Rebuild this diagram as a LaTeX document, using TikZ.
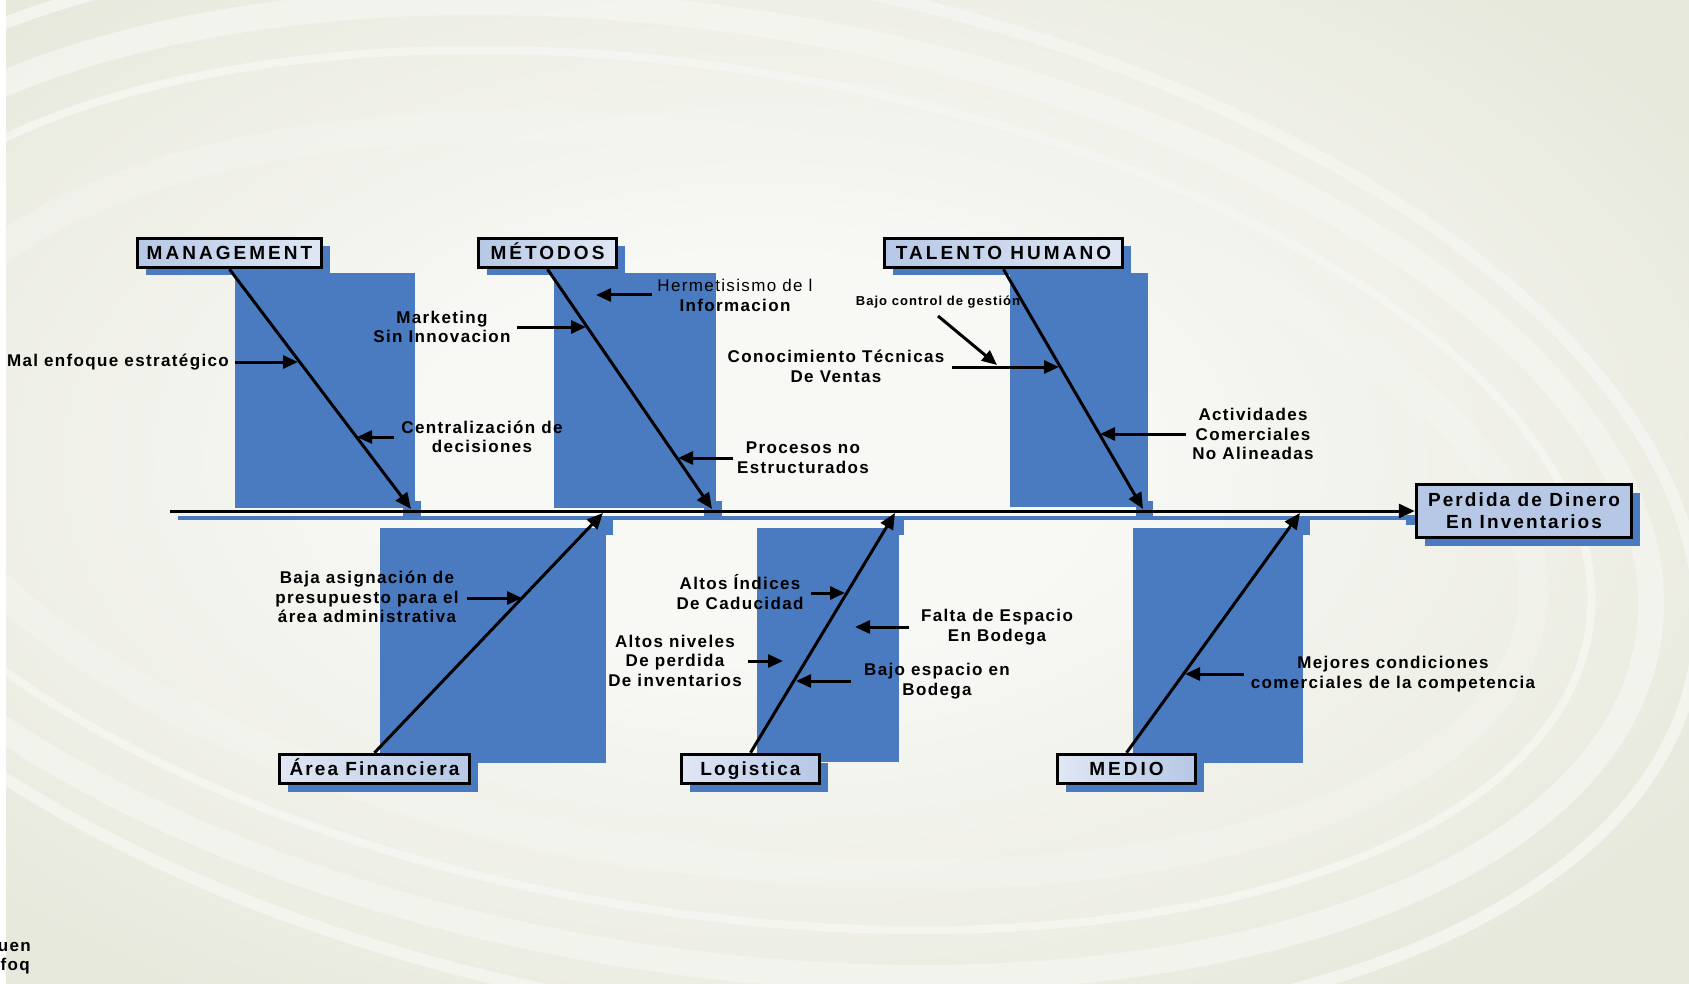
\documentclass[tikz,border=0pt]{standalone}
\usepackage{fontspec}
\newfontfamily\labfont[LetterSpace=8]{Liberation Sans}
\newfontfamily\capfont[LetterSpace=16]{Liberation Sans}
\newfontfamily\capfontb[LetterSpace=11]{Liberation Sans}
\usetikzlibrary{arrows.meta,shadows}
\definecolor{bgc}{HTML}{E8E9DD}
\definecolor{bgin}{HTML}{F8F8F5}
\definecolor{swirlc}{HTML}{F5F6F1}
\definecolor{fishblue}{HTML}{4A7BC1}
\definecolor{boxlight}{HTML}{E0E7F4}
\definecolor{boxdark}{HTML}{B6C8E6}
\pgfdeclareradialshading{bgshade}{\pgfpoint{-3bp}{2bp}}{color(0bp)=(bgin); color(10bp)=(bgin); color(32bp)=(bgc); color(80bp)=(bgc)}
\tikzset{
  panel/.style={fill=fishblue},
  swirl/.style={draw=swirlc},
  catbox/.style={draw=black, line width=3.5pt, inner sep=0pt, minimum height=29pt,
    text height=13.6pt, text depth=0pt,
    drop shadow={shadow xshift=8pt, shadow yshift=-8pt, opacity=1, fill=fishblue}},
  topbox/.style={catbox, left color=boxdark, right color=boxlight,
    font=\capfont\bfseries\fontsize{19}{22}\selectfont},
  botbox/.style={catbox, left color=boxlight, right color=boxdark,
    font=\capfontb\bfseries\fontsize{19}{22}\selectfont},
  bone/.style={line width=3pt, -{Triangle[length=16pt,width=14pt]}},
  sub/.style={line width=3pt, -{Triangle[length=15pt,width=13pt]}},
  lbl/.style={font=\labfont\bfseries\fontsize{17}{19.5}\selectfont, align=center, inner sep=0pt},
}
\begin{document}
\begin{tikzpicture}[x=1pt,y=-1pt]
\useasboundingbox (0,0) rectangle (1689,984);
% background
\fill[bgc] (0,0) rectangle (1689,984);
\shade[shading=bgshade] (0,0) rectangle (1689,984);
\begin{scope}
\clip (0,0) rectangle (1689,984);
\draw[swirl, line width=26pt, opacity=.75, rotate around={-9:(700,490)}] (700,490) ellipse [x radius=960pt, y radius=470pt];
\draw[swirl, line width=8pt, opacity=.9, rotate around={-9:(700,490)}] (700,490) ellipse [x radius=900pt, y radius=422pt];
\draw[swirl, line width=12pt, opacity=.85, rotate around={-10:(700,490)}] (700,490) ellipse [x radius=1010pt, y radius=520pt];
\draw[swirl, line width=30pt, opacity=.45, rotate around={-8:(720,500)}] (720,500) ellipse [x radius=820pt, y radius=360pt];
\end{scope}
\fill[white] (0,0) rectangle (6,984);

% blue panels
\fill[panel] (235,273) rectangle (415,508);
\fill[panel] (554,273) rectangle (716,508);
\fill[panel] (1010,273) rectangle (1148,507);
\fill[panel] (380,528) rectangle (606,763);
\fill[panel] (757,528) rectangle (899,762);
\fill[panel] (1133,528) rectangle (1303,763);
% blue under-spine and joint squares
\fill[fishblue] (178,516) rectangle (1413,520);
\fill[fishblue] (403,501) rectangle (421,519);
\fill[fishblue] (704,501) rectangle (722,519);
\fill[fishblue] (1136,501) rectangle (1153,519);
\fill[fishblue] (597,516) rectangle (613,535);
\fill[fishblue] (887,516) rectangle (904,535);
\fill[fishblue] (1292,516) rectangle (1310,535);
\fill[fishblue] (1406,515) rectangle (1415,525);

% category boxes
\node[topbox, minimum width=184pt] (mgmt) at (229.5,253) {MANAGEMENT};
\node[topbox, minimum width=138pt] (met) at (547.5,253) {MÉTODOS};
\node[topbox, minimum width=238pt] (tal) at (1003.5,253) {TALENTO HUMANO};
\node[botbox, minimum width=190pt] (fin) at (374.5,769) {Área Financiera};
\node[botbox, minimum width=138pt] (log) at (750.5,769) {Logistica};
\node[topbox, left color=boxlight, right color=boxdark, minimum width=138pt] (med) at (1126.5,769) {MEDIO};
\node[draw=black, line width=3.5pt, fill=boxdark, inner sep=0pt, minimum width=215pt, minimum height=53pt,
  align=center, font=\capfontb\bfseries\fontsize{19}{22}\selectfont,
  drop shadow={shadow xshift=8pt, shadow yshift=-8pt, opacity=1, fill=fishblue}] (eff) at (1524,511) {Perdida de Dinero\\En Inventarios};

% spine
\coordinate (spine) at (170,511);
\draw[line width=3pt, -{Triangle[length=16pt,width=14pt]}] (spine) -- (eff.west);

% bones
\coordinate (mgmtE) at (411,509);
\coordinate (metE) at (712,509);
\coordinate (talE) at (1143,509);
\coordinate (finE) at (603,513);
\coordinate (logE) at (895,513);
\coordinate (medE) at (1300,513);
\draw[bone] (mgmt.south) -- (mgmtE);
\draw[bone] (met.south) -- (metE);
\draw[bone] (tal.south) -- (talE);
\draw[bone] (fin.north) -- (finE);
\draw[bone] (log.north) -- (logE);
\draw[bone] (med.north) -- (medE);

% labels
\node[lbl, anchor=east] (l1) at (229,362) {Mal enfoque estratégico};
\node[lbl] (l2) at (482,437) {Centralización de\\decisiones};
\node[lbl] (l3) at (442,327) {Marketing\\Sin Innovacion};
\node[lbl] (l4) at (735,295.5) {{\mdseries Hermetisismo de l}\\Informacion};
\node[lbl] (l5) at (803,457.5) {Procesos no\\Estructurados};
\node[lbl] (l6) at (836,366.5) {Conocimiento Técnicas\\De Ventas};
\node[lbl, font=\labfont\bfseries\fontsize{13}{15}\selectfont] (l7) at (938,302) {Bajo control de gestión};
\node[lbl] (l8) at (1253,434) {Actividades\\Comerciales\\No Alineadas};
\node[lbl] (l9) at (367,597) {Baja asignación de\\presupuesto para el\\área administrativa};
\node[lbl] (l10) at (740,592) {Altos Índices\\De Caducidad};
\node[lbl] (l11) at (997,627) {Falta de Espacio\\En Bodega};
\node[lbl] (l12) at (675,660.5) {Altos niveles\\De perdida\\De inventarios};
\node[lbl] (l13) at (937,681) {Bajo espacio en\\Bodega};
\node[lbl] (l14) at (1393,674) {Mejores condiciones\\comerciales de la competencia};
\node[lbl, anchor=east, font=\labfont\bfseries\fontsize{17}{19}\selectfont] (f1) at (31,947) {uen};
\node[lbl, anchor=east, font=\labfont\bfseries\fontsize{17}{19}\selectfont] (f2) at (30,966) {foq};

% sub-cause arrows
\coordinate (a1s) at (235,362);  \coordinate (a1e) at (298,362);
\coordinate (a2s) at (394,437);  \coordinate (a2e) at (357,437);
\coordinate (a3s) at (517,327);  \coordinate (a3e) at (586,327);
\coordinate (a4s) at (652,295);  \coordinate (a4e) at (596,295);
\coordinate (a5s) at (733,458);  \coordinate (a5e) at (678,458);
\coordinate (a7s) at (938,316);  \coordinate (a7e) at (997,365);
\coordinate (a6s) at (952,367);  \coordinate (a6e) at (1059,367);
\coordinate (a8s) at (1186,434); \coordinate (a8e) at (1100,434);
\coordinate (a9s) at (467,598);  \coordinate (a9e) at (522,598);
\coordinate (a10s) at (811,593); \coordinate (a10e) at (845,593);
\coordinate (a11s) at (909,627); \coordinate (a11e) at (855,627);
\coordinate (a12s) at (748,661); \coordinate (a12e) at (783,661);
\coordinate (a13s) at (851,681); \coordinate (a13e) at (796,681);
\coordinate (a14s) at (1244,674); \coordinate (a14e) at (1185,674);
\foreach \i in {1,...,14} {\draw[sub] (a\i s) -- (a\i e);}
\end{tikzpicture}
\end{document}
